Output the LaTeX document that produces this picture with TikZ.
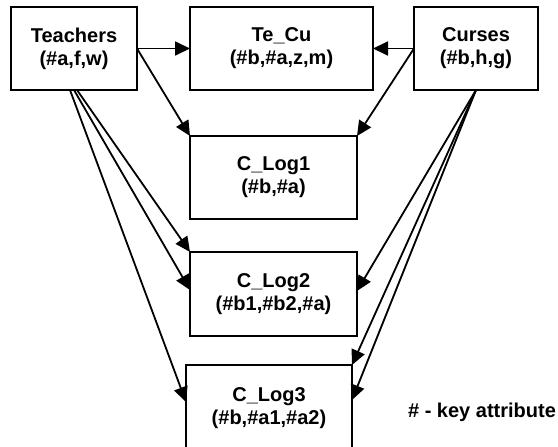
\documentclass[tikz,border=0pt]{standalone}
\usepackage{fontspec}
\setmainfont{Liberation Sans}
\usetikzlibrary{arrows.meta,calc}
\begin{document}
\begin{tikzpicture}[x=1pt,y=-1pt,
  box/.style={draw,line width=2pt,rectangle,inner sep=0pt,outer sep=0pt,align=center,
    font=\fontsize{20}{23}\selectfont\bfseries},
  arr/.style={line width=1.8pt,-{Triangle[length=15pt,width=14pt]}},
  lbl/.style={font=\fontsize{20}{23}\selectfont\bfseries,inner sep=0pt}]
\useasboundingbox (0,0) rectangle (558,447);
\clip (0,0) rectangle (558,447);
\node[box,minimum width=126pt,minimum height=83pt] (T) at (74,48.5) {Teachers\\(\#a,f,w)};
\node[box,minimum width=183pt,minimum height=83pt] (TC) at (281.5,48.5) {Te\_Cu\\(\#b,\#a,z,m)};
\node[box,minimum width=124pt,minimum height=83pt] (C) at (476,48.5) {Curses\\(\#b,h,g)};
\node[box,minimum width=167pt,minimum height=83pt] (L1) at (273.5,177.5) {C\_Log1\\(\#b,\#a)};
\node[box,minimum width=167pt,minimum height=84pt] (L2) at (273.5,294) {C\_Log2\\(\#b1,\#b2,\#a)};
\node[box,minimum width=166pt,minimum height=86pt] (L3) at (269,408) {C\_Log3\\(\#b,\#a1,\#a2)};
\node[lbl] (key) at (482,412) {\# - key attribute};
% Teachers
\draw[arr] (T.east) -- (TC.west);
\draw[arr] (T.east) -- (L1.north west);
\draw[arr] ($(T.south)+(3,0)$) -- (L2.north west);
\draw[arr] (T.south) -- ($(L2.north west)+(0,38)$);
\draw[arr] ($(T.south)+(-4,0)$) -- ($(L3.north west)+(0,37)$);
% Curses
\draw[arr] (C.west) -- (TC.east);
\draw[arr] (C.west) -- (L1.north east);
\draw[arr] (C.south) -- ($(L2.north east)+(0,39)$);
\draw[arr] (C.south) -- (L3.north east);
\draw[arr] (C.south) -- ($(L3.north east)+(0,35)$);
\end{tikzpicture}
\end{document}
